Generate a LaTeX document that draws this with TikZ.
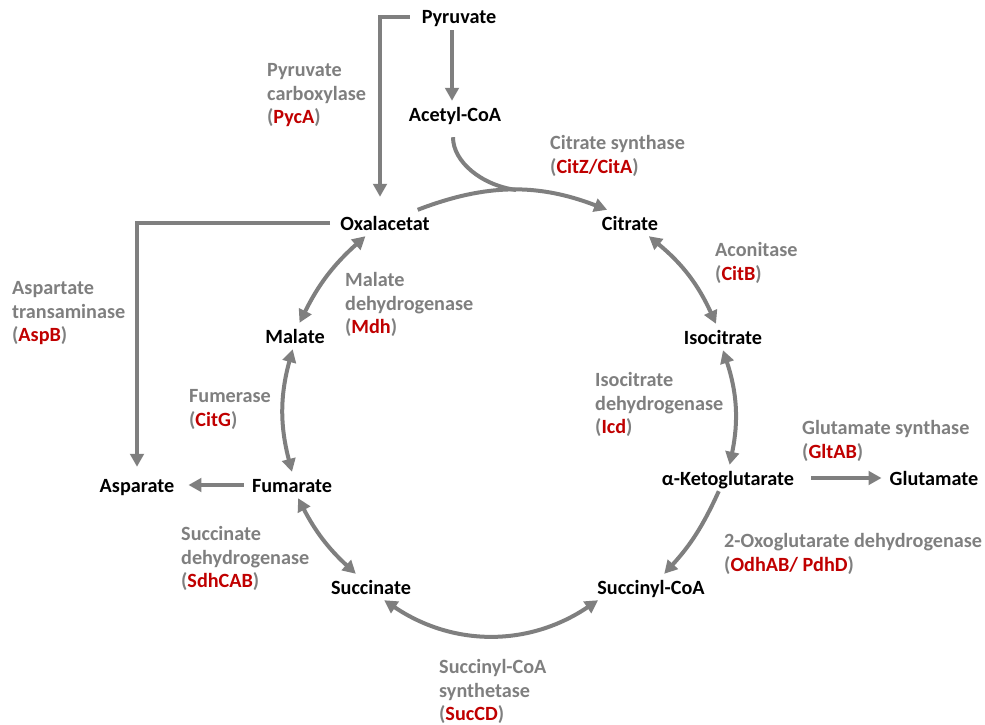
\documentclass[tikz,border=0pt]{standalone}
\usepackage{fontspec}
\setmainfont{Carlito}
\usetikzlibrary{arrows.meta}
\definecolor{flow}{HTML}{7F7F7F}
\definecolor{enzred}{HTML}{C00000}
\newcommand\gene[1]{(\textcolor{enzred}{#1})}
\begin{document}
\begin{tikzpicture}[x=1pt,y=1pt,
  met/.style={font=\fontsize{20.2}{24}\selectfont\bfseries, text height=14pt,
    text depth=0pt, inner xsep=8pt, inner ysep=6pt},
  lab/.style={font=\fontsize{20.2}{23.8}\selectfont\bfseries, text=flow,
    align=left, anchor=north west, inner sep=0pt},
  tip/.tip={Triangle[length=13pt,width=13.5pt]},
  plain/.style={draw=flow, line width=4pt},
  rx/.style={plain, -tip},
  rev/.style={plain, tip-tip}]
\useasboundingbox (0,0) rectangle (985,-725);

% metabolites
\node[met] (pyr)  at (459,-17)  {Pyruvate};
\node[met] (acoa) at (455,-114) {Acetyl-CoA};
\node[met] (oxa)  at (385,-223) {Oxalacetat};
\node[met] (cit)  at (630,-223) {Citrate};
\node[met] (iso)  at (723,-337) {Isocitrate};
\node[met] (akg)  at (728,-478) {α-Ketoglutarate};
\node[met] (glu)  at (934,-478) {Glutamate};
\node[met] (scoa) at (651,-587) {Succinyl-CoA};
\node[met] (suc)  at (371,-587) {Succinate};
\node[met] (fum)  at (292,-485) {Fumarate};
\node[met] (asp)  at (137,-485) {Asparate};
\node[met] (mal)  at (295,-336) {Malate};

% enzymes
\node[lab] (e-pyc) at (267,-63)  {Pyruvate\\carboxylase\\\gene{PycA}};
\node[lab] (e-cs)  at (550,-135) {Citrate synthase\\\gene{CitZ/CitA}};
\node[lab] (e-acn) at (715,-242) {Aconitase\\\gene{CitB}};
\node[lab] (e-mdh) at (345,-272) {Malate\\dehydrogenase\\\gene{Mdh}};
\node[lab] (e-asp) at (12,-281)  {Aspartate\\transaminase\\\gene{AspB}};
\node[lab] (e-fum) at (189,-389) {Fumerase\\\gene{CitG}};
\node[lab] (e-icd) at (595,-372) {Isocitrate\\dehydrogenase\\\gene{Icd}};
\node[lab] (e-glt) at (802,-420) {Glutamate synthase\\\gene{GltAB}};
\node[lab] (e-odh) at (724,-533) {2-Oxoglutarate dehydrogenase\\\gene{OdhAB/ PdhD}};
\node[lab] (e-sdh) at (181,-526) {Succinate\\dehydrogenase\\\gene{SdhCAB}};
\node[lab] (e-suc) at (439,-659) {Succinyl-CoA\\synthetase\\\gene{SucCD}};

% linear branches
\draw[rx] ([xshift=-7pt]pyr.south) -- ([xshift=-3pt]acoa.north);
\draw[rx, shorten >=13pt] ([xshift=-4pt]pyr.west) -| ([xshift=-5pt]oxa.north);
\draw[rx, shorten >=5pt] ([xshift=-2pt]oxa.west) -| (asp.north);
\draw[rx, shorten >=6pt] (fum.west) -- (asp.east);
\draw[rx, shorten <=9pt] (akg.east) -- (glu.west);

% cycle
\draw[rx] (oxa.22) to[bend left=21] coordinate[pos=0.52] (join) (cit.150);
\draw[plain, shorten <=10pt] ([xshift=-2pt]acoa.south) to[out=-90, in=172] (join);
\draw[rev] (cit.325) to[bend left=13] (iso.118);
\draw[rev] (iso.270) to[bend left=15] (akg.83);
\draw[rx]  (akg.235) to[bend left=9] (scoa.45);
\draw[rev] (suc.315) to[bend right=34] (scoa.194);
\draw[rev] (fum.295) to[bend right=10] (suc.139);
\draw[rev] (mal.260) to[bend right=15] (fum.90);
\draw[rev] (oxa.214) to[bend right=11] (mal.71);
\end{tikzpicture}
\end{document}
